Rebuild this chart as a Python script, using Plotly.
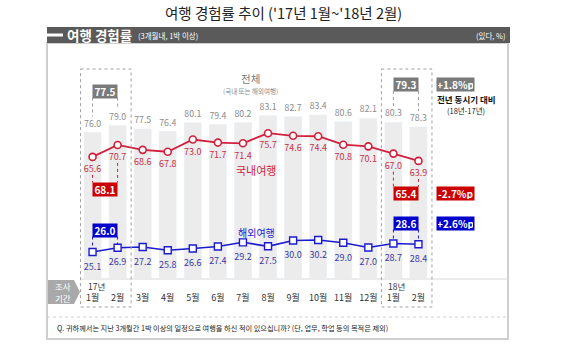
import plotly.graph_objects as go

# ---------------- data ----------------
months = ["1월", "2월", "3월", "4월", "5월", "6월", "7월", "8월", "9월", "10월", "11월", "12월", "1월", "2월"]
year_marks = {0: "17년", 12: "18년"}
total = [76.0, 79.0, 77.5, 76.4, 80.1, 79.4, 80.2, 83.1, 82.7, 83.4, 80.6, 82.1, 80.3, 78.3]
domestic = [65.6, 70.7, 68.6, 67.8, 73.0, 71.7, 71.4, 75.7, 74.6, 74.4, 70.8, 70.1, 67.0, 63.9]
overseas = [25.1, 26.9, 27.2, 25.8, 26.6, 27.4, 29.2, 27.5, 30.0, 30.2, 29.0, 27.0, 28.7, 28.4]
avg_total = [77.5, 79.3]        # '17 Jan-Feb, '18 Jan-Feb averages
avg_domestic = [68.1, 65.4]
avg_overseas = [26.0, 28.6]
diff_labels = ["+1.8%p", "-2.7%p", "+2.6%p"]

FONT = "Noto Sans CJK KR"
GRAY_BAR = "#ececec"
GRAY_TXT = "#8a8a8a"
RED = "#d21f3c"
RED_TXT = "#c8304a"
RED_BOX = "#cc0000"
BLUE = "#1a1ad0"
BLUE_TXT = "#3a3aa8"
BLUE_BOX = "#0000cc"
BOX_GRAY = "#7a7a7a"

W, H = 567, 360
L, R, T, B = 80, 136, 48, 82
PW, PH = W - L - R, H - T - B
YMIN, YMAX = 14, 112
n = len(months)
xs = list(range(n))


def xpix(i):
    return L + (i + 0.5) * PW / n


def ypix(v):
    return T + PH - (v - YMIN) * PH / (YMAX - YMIN)


def XP(p):  # pixel -> paper
    return (p - L) / PW


def YP(p):
    return (H - B - p) / PH


fig = go.Figure()
fig.add_trace(go.Bar(
    x=xs, y=total, marker_color=GRAY_BAR, width=0.68,
    text=[f"{v:.1f}" for v in total], textposition="outside",
    textfont=dict(color=GRAY_TXT, size=9, family=FONT), cliponaxis=False,
    hoverinfo="skip"))
# lines with markers
fig.add_trace(go.Scatter(
    x=xs, y=domestic, mode="lines+markers",
    line=dict(color=RED, width=1.8),
    marker=dict(symbol="circle", size=7, color="white", line=dict(color=RED, width=1.6)),
    cliponaxis=False))
fig.add_trace(go.Scatter(
    x=xs, y=overseas, mode="lines+markers",
    line=dict(color=BLUE, width=1.6),
    marker=dict(symbol="square", size=7, color="white", line=dict(color=BLUE, width=1.4)),
    cliponaxis=False))
# value labels (transparent larger markers give extra offset below the points)
fig.add_trace(go.Scatter(
    x=xs, y=domestic, mode="markers+text",
    marker=dict(size=12, color="rgba(0,0,0,0)"),
    text=[f"{v:.1f}" for v in domestic], textposition="bottom center",
    textfont=dict(color=RED_TXT, size=9, family=FONT), cliponaxis=False, hoverinfo="skip"))
fig.add_trace(go.Scatter(
    x=xs, y=overseas, mode="markers+text",
    marker=dict(size=16, color="rgba(0,0,0,0)"),
    text=[f"{v:.1f}" for v in overseas], textposition="bottom center",
    textfont=dict(color=BLUE_TXT, size=9, family=FONT), cliponaxis=False, hoverinfo="skip"))

shapes = []
ann = []


def line(x0, y0, x1, y1, color, width=1, dash="solid"):
    shapes.append(dict(type="line", xref="paper", yref="paper",
                       x0=XP(x0), y0=YP(y0), x1=XP(x1), y1=YP(y1),
                       line=dict(color=color, width=width, dash=dash)))


def rect(x0, y0, x1, y1, fill=None, lc=None, lw=0, dash="solid", layer="above"):
    shapes.append(dict(type="rect", xref="paper", yref="paper", layer=layer,
                       x0=XP(x0), y0=YP(y0), x1=XP(x1), y1=YP(y1),
                       fillcolor=fill if fill else "rgba(0,0,0,0)",
                       line=dict(color=lc if lc else "rgba(0,0,0,0)", width=lw, dash=dash)))


def text(x, y, s, size=9, color="black", xanchor="center", bold=False, bg=None, w=None, h=None):
    ann.append(dict(xref="paper", yref="paper", x=XP(x), y=YP(y), text=(f"<b>{s}</b>" if bold else s),
                    showarrow=False, xanchor=xanchor, yanchor="middle",
                    font=dict(size=size, color=color, family=FONT),
                    bgcolor=bg, width=w, height=h, borderpad=1))


# panel frame & header
rect(47, 43, 508, 339, lc="#cfcfcf", lw=2, layer="below")
rect(47, 27, 510, 43, fill="#5a5a5a")
line(47, 35, 63, 35, "white", 3)
text(65, 35, "여행 경험률", 13.5, "white", "left", bold=True)
text(136, 35.5, "(3개월내, 1박 이상)", 7.5, "white", "left")
text(508, 35.5, "(있다, %)", 7.5, "white", "right")

# title
text(W / 2, 12, "여행 경험률 추이 ('17년 1월~'18년 2월)", 14.5, "#222")

# axis band line, tag, footer separator, footer text
line(80, 279, 508, 279, "#d8d8d8", 1)
shapes.append(dict(type="path", xref="paper", yref="paper",
                   path=f"M {XP(48)} {YP(280)} L {XP(74)} {YP(280)} L {XP(80)} {YP(292)} "
                        f"L {XP(74)} {YP(304)} L {XP(48)} {YP(304)} Z",
                   fillcolor="#a9a9a9", line=dict(width=0)))
text(63, 286, "조사", 8.5, "white")
text(63, 298, "기간", 8.5, "white")
line(47, 317, 508, 317, "#d0d0d0", 1, "dot")
text(55, 328, "Q. 귀하께서는 지난 3개월간 1박 이상의 일정으로 여행을 하신 적이 있으십니까? (단, 업무, 학업 등의 목적은 제외)",
     7.2, "#222", "left")

# year marks
for i, s in year_marks.items():
    text(xpix(i) - 7, 286, s, 8.5, "#333", "left")

# dotted comparison frames
for a in (0, n - 2):
    rect(xpix(a) - 12, 69, xpix(a + 1) + 13.5, 307, lc="#a0a0a0", lw=1, dash="dot")

# average boxes with connectors
pairs = [(0, 0), (n - 2, 1)]
tot_box_y = [91, 84.5]
dom_box_y = [189, 193]
ovs_box_y = [230, 223]
for a, k in pairs:
    cx = (xpix(a) + xpix(a + 1)) / 2
    # total
    by = tot_box_y[k]
    for j in (a, a + 1):
        line(xpix(j), by + 6.5, xpix(j), ypix(total[j]) - 16, "#9a9a9a", 1, "dot")
    text(cx, by, f"{avg_total[k]:.1f}", 10, "white", bold=True, bg=BOX_GRAY, w=22, h=11)
    # domestic
    by = dom_box_y[k]
    for j in (a, a + 1):
        line(xpix(j), ypix(domestic[j]) + 18, xpix(j), by - 6.5, RED, 1, "dot")
    text(cx, by, f"{avg_domestic[k]:.1f}", 10, "white", bold=True, bg=RED_BOX, w=22, h=11)
    # overseas
    by = ovs_box_y[k]
    for j in (a, a + 1):
        line(xpix(j), by + 6.5, xpix(j), ypix(overseas[j]) - 3.5, BLUE, 1, "dot")
    text(cx, by, f"{avg_overseas[k]:.1f}", 10, "white", bold=True, bg=BLUE_BOX, w=22, h=11)

# difference boxes
text(455.5, tot_box_y[1], diff_labels[0], 10, "white", bold=True, bg=BOX_GRAY, w=35, h=11)
text(455.5, dom_box_y[1], diff_labels[1], 10, "white", bold=True, bg=RED_BOX, w=35, h=11)
text(455.5, ovs_box_y[1], diff_labels[2], 10, "white", bold=True, bg=BLUE_BOX, w=35, h=11)
text(466, 99, "전년 동시기 대비", 8.5, "#111", bold=True)
text(466, 110, "(18년-17년)", 7.5, "#222")

# series labels
text(250, 78, "전체", 10.5, "#777")
text(250, 90.5, "(국내 또는 해외여행)", 6.5, "#888")
text(256, 170, "국내여행", 11, RED)
text(256, 232, "해외여행", 10, BLUE)

fig.update_layout(
    width=W, height=H, margin=dict(l=L, r=R, t=T, b=B),
    paper_bgcolor="white", plot_bgcolor="white", showlegend=False,
    font=dict(family=FONT), shapes=shapes, annotations=ann,
    xaxis=dict(range=[-0.5, n - 0.5], tickmode="array", tickvals=xs, ticktext=months,
               showgrid=False, zeroline=False, showline=False, ticks="",
               ticklabelstandoff=13, tickfont=dict(size=9, color="#333", family=FONT),
               fixedrange=True),
    yaxis=dict(range=[YMIN, YMAX], visible=False, fixedrange=True),
)

fig.write_html("out.html", config={"displayModeBar": False},
               post_script="document.body.style.margin='0';document.body.style.padding='0';")
